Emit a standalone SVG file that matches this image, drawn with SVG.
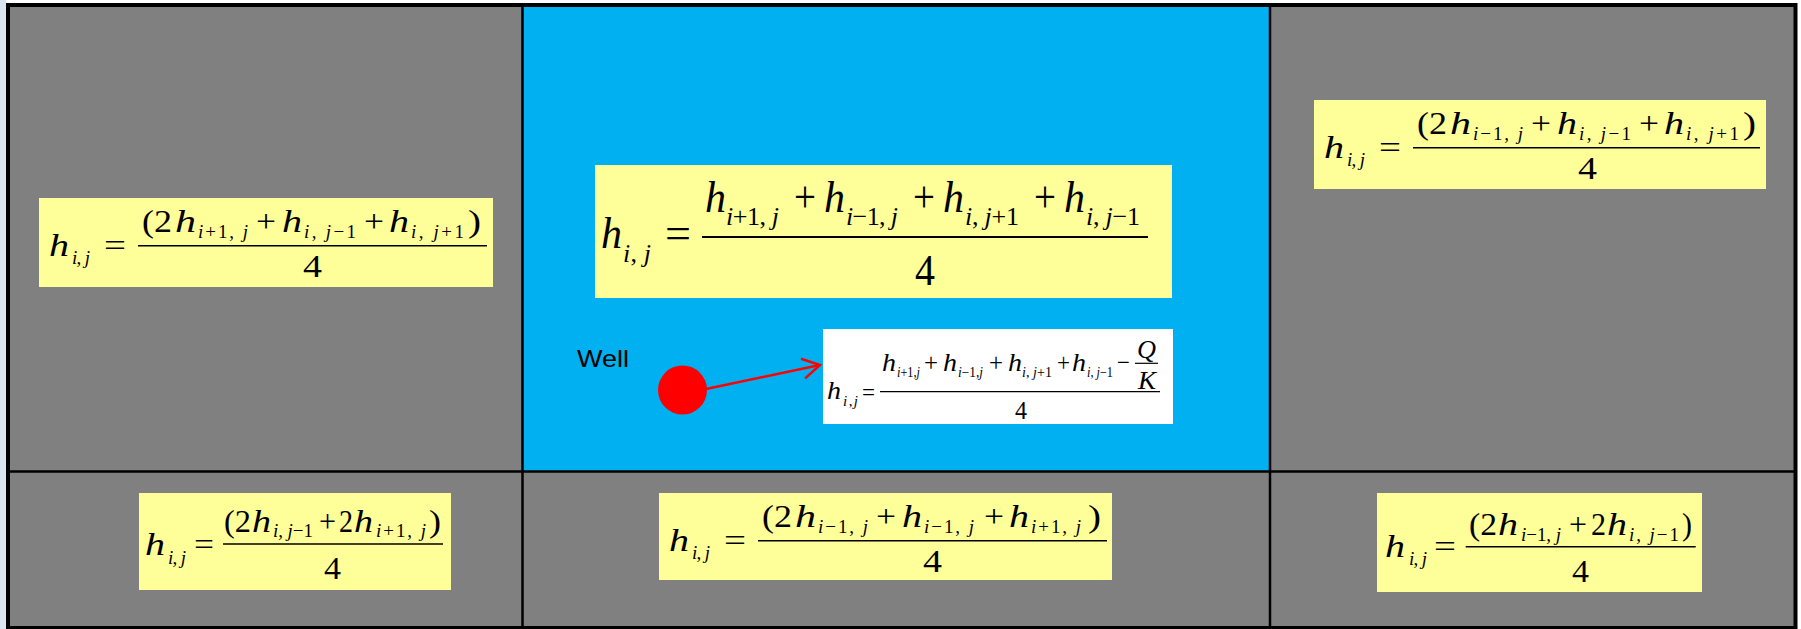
<svg xmlns="http://www.w3.org/2000/svg" width="1801" height="629" viewBox="0 0 1801 629">
<defs>
<style>
text{font-family:"Liberation Serif","Times New Roman",serif;fill:#000}
.it{font-style:italic}
.big{font-size:32px}
.sub{font-size:19px}
.b44{font-size:44px}
.s26{font-size:26px}
.b26{font-size:26px}
.s15{font-size:15px}
.s14{font-size:14px}
.fl{stroke:#000;stroke-width:1.6}
.box{fill:#ffff99}
.grid{stroke:#000;stroke-width:2.5;fill:none}
.lbl{font-family:"Liberation Sans",Arial,sans-serif;font-size:24px}
</style>
<marker id="ah" markerUnits="userSpaceOnUse" viewBox="-20 -12 22 24" refX="0" refY="0" markerWidth="22" markerHeight="24" orient="auto" overflow="visible">
<path d="M-17.3,-10 L0,0 L-17.3,10" fill="none" stroke="#ff0000" stroke-width="2.5"/>
</marker>
</defs>
<rect width="1801" height="629" fill="#ffffff"/>
<rect x="0" y="0" width="6" height="629" fill="#dbe5f1"/>

<g id="grid">
<rect x="8" y="5" width="1787.5" height="623" fill="#808080"/>
<rect x="522" y="5" width="748" height="467" fill="#00b0f0"/>
<line class="grid" x1="522.5" y1="5" x2="522.5" y2="628"/>
<line class="grid" x1="1270" y1="5" x2="1270" y2="628"/>
<line class="grid" x1="8" y1="471.5" x2="1795" y2="471.5"/>
<rect x="8" y="5" width="1787.5" height="623" fill="none" stroke="#000" stroke-width="4"/>
</g>

<g id="formula-left" transform="translate(39,198)">
<rect class="box" width="454" height="89"/>
<text class="big it" x="10" y="58" textLength="20" lengthAdjust="spacingAndGlyphs">h</text>
<text class="sub" x="33" y="66" textLength="18" lengthAdjust="spacing"><tspan class="it">i</tspan>, <tspan class="it">j</tspan></text>
<text class="big" x="65" y="58" textLength="22" lengthAdjust="spacingAndGlyphs">=</text>
<line class="fl" x1="99" y1="47.8" x2="448" y2="47.8"/>
<text class="big" x="103" y="34.3" textLength="30" lengthAdjust="spacingAndGlyphs">(2</text>
<text class="big it" x="136" y="34.3" textLength="21" lengthAdjust="spacingAndGlyphs">h</text>
<text class="sub" x="159" y="40" textLength="50" lengthAdjust="spacing"><tspan class="it">i</tspan>+1, <tspan class="it">j</tspan></text>
<text class="big" x="217" y="34.3" textLength="20" lengthAdjust="spacingAndGlyphs">+</text>
<text class="big it" x="243" y="34.3" textLength="20" lengthAdjust="spacingAndGlyphs">h</text>
<text class="sub" x="265" y="40" textLength="52" lengthAdjust="spacing"><tspan class="it">i</tspan>, <tspan class="it">j</tspan>−1</text>
<text class="big" x="325" y="34.3" textLength="20" lengthAdjust="spacingAndGlyphs">+</text>
<text class="big it" x="350" y="34.3" textLength="20" lengthAdjust="spacingAndGlyphs">h</text>
<text class="sub" x="372" y="40" textLength="53" lengthAdjust="spacing"><tspan class="it">i</tspan>, <tspan class="it">j</tspan>+1</text>
<text class="big" x="429" y="34.3" textLength="13" lengthAdjust="spacingAndGlyphs">)</text>
<text class="big" x="264" y="79" textLength="19" lengthAdjust="spacingAndGlyphs">4</text>
</g>

<g id="formula-right" transform="translate(1314,100)">
<rect class="box" width="452" height="89"/>
<text class="big it" x="10" y="58" textLength="20" lengthAdjust="spacingAndGlyphs">h</text>
<text class="sub" x="33" y="66" textLength="18" lengthAdjust="spacing"><tspan class="it">i</tspan>, <tspan class="it">j</tspan></text>
<text class="big" x="65" y="58" textLength="22" lengthAdjust="spacingAndGlyphs">=</text>
<line class="fl" x1="99" y1="47.8" x2="446" y2="47.8"/>
<text class="big" x="103" y="34.3" textLength="30" lengthAdjust="spacingAndGlyphs">(2</text>
<text class="big it" x="136" y="34.3" textLength="21" lengthAdjust="spacingAndGlyphs">h</text>
<text class="sub" x="159" y="40" textLength="50" lengthAdjust="spacing"><tspan class="it">i</tspan>−1, <tspan class="it">j</tspan></text>
<text class="big" x="217" y="34.3" textLength="20" lengthAdjust="spacingAndGlyphs">+</text>
<text class="big it" x="243" y="34.3" textLength="20" lengthAdjust="spacingAndGlyphs">h</text>
<text class="sub" x="265" y="40" textLength="52" lengthAdjust="spacing"><tspan class="it">i</tspan>, <tspan class="it">j</tspan>−1</text>
<text class="big" x="325" y="34.3" textLength="20" lengthAdjust="spacingAndGlyphs">+</text>
<text class="big it" x="350" y="34.3" textLength="20" lengthAdjust="spacingAndGlyphs">h</text>
<text class="sub" x="372" y="40" textLength="53" lengthAdjust="spacing"><tspan class="it">i</tspan>, <tspan class="it">j</tspan>+1</text>
<text class="big" x="429" y="34.3" textLength="13" lengthAdjust="spacingAndGlyphs">)</text>
<text class="big" x="264" y="79" textLength="19" lengthAdjust="spacingAndGlyphs">4</text>
</g>

<g id="formula-bottom-center" transform="translate(659,493)">
<rect class="box" width="453" height="87"/>
<text class="big it" x="10" y="58" textLength="20" lengthAdjust="spacingAndGlyphs">h</text>
<text class="sub" x="33" y="66" textLength="18" lengthAdjust="spacing"><tspan class="it">i</tspan>, <tspan class="it">j</tspan></text>
<text class="big" x="65" y="58" textLength="22" lengthAdjust="spacingAndGlyphs">=</text>
<line class="fl" x1="99" y1="47.8" x2="448" y2="47.8"/>
<text class="big" x="103" y="34.3" textLength="30" lengthAdjust="spacingAndGlyphs">(2</text>
<text class="big it" x="136" y="34.3" textLength="21" lengthAdjust="spacingAndGlyphs">h</text>
<text class="sub" x="159" y="40" textLength="50" lengthAdjust="spacing"><tspan class="it">i</tspan>−1, <tspan class="it">j</tspan></text>
<text class="big" x="217" y="34.3" textLength="20" lengthAdjust="spacingAndGlyphs">+</text>
<text class="big it" x="243" y="34.3" textLength="20" lengthAdjust="spacingAndGlyphs">h</text>
<text class="sub" x="265" y="40" textLength="50" lengthAdjust="spacing"><tspan class="it">i</tspan>−1, <tspan class="it">j</tspan></text>
<text class="big" x="325" y="34.3" textLength="20" lengthAdjust="spacingAndGlyphs">+</text>
<text class="big it" x="350" y="34.3" textLength="20" lengthAdjust="spacingAndGlyphs">h</text>
<text class="sub" x="372" y="40" textLength="50" lengthAdjust="spacing"><tspan class="it">i</tspan>+1, <tspan class="it">j</tspan></text>
<text class="big" x="429" y="34.3" textLength="13" lengthAdjust="spacingAndGlyphs">)</text>
<text class="big" x="264" y="79" textLength="19" lengthAdjust="spacingAndGlyphs">4</text>
</g>

<g id="formula-bottom-left" transform="translate(139,493)">
<rect class="box" width="312" height="97"/>
<text class="big it" x="6" y="62" textLength="20" lengthAdjust="spacingAndGlyphs">h</text>
<text class="sub" x="29" y="71" textLength="18" lengthAdjust="spacing"><tspan class="it">i</tspan>, <tspan class="it">j</tspan></text>
<text class="big" x="55" y="62" textLength="20" lengthAdjust="spacingAndGlyphs">=</text>
<line class="fl" x1="84" y1="51" x2="304" y2="51"/>
<text class="big" x="85" y="38.7" textLength="27" lengthAdjust="spacingAndGlyphs">(2</text>
<text class="big it" x="113" y="38.7" textLength="19" lengthAdjust="spacingAndGlyphs">h</text>
<text class="sub" x="134" y="44" textLength="40" lengthAdjust="spacing"><tspan class="it">i</tspan>, <tspan class="it">j</tspan>−1</text>
<text class="big" x="180" y="38.7" textLength="17" lengthAdjust="spacingAndGlyphs">+</text>
<text class="big" x="200" y="38.7" textLength="14" lengthAdjust="spacingAndGlyphs">2</text>
<text class="big it" x="215" y="38.7" textLength="19" lengthAdjust="spacingAndGlyphs">h</text>
<text class="sub" x="237" y="44" textLength="50" lengthAdjust="spacing"><tspan class="it">i</tspan>+1, <tspan class="it">j</tspan></text>
<text class="big" x="290" y="38.7" textLength="12" lengthAdjust="spacingAndGlyphs">)</text>
<text class="big" x="185" y="86.3" textLength="17" lengthAdjust="spacingAndGlyphs">4</text>
</g>

<g id="formula-bottom-right" transform="translate(1377,493)">
<rect class="box" width="325" height="99"/>
<text class="big it" x="8" y="63.7" textLength="20" lengthAdjust="spacingAndGlyphs">h</text>
<text class="sub" x="32" y="72" textLength="18" lengthAdjust="spacing"><tspan class="it">i</tspan>, <tspan class="it">j</tspan></text>
<text class="big" x="57" y="63.7" textLength="22" lengthAdjust="spacingAndGlyphs">=</text>
<line class="fl" x1="88.7" y1="53.7" x2="318.7" y2="53.7"/>
<text class="big" x="92" y="42" textLength="28" lengthAdjust="spacingAndGlyphs">(2</text>
<text class="big it" x="121" y="42" textLength="20" lengthAdjust="spacingAndGlyphs">h</text>
<text class="sub" x="144" y="47.5" textLength="40" lengthAdjust="spacing"><tspan class="it">i</tspan>−1, <tspan class="it">j</tspan></text>
<text class="big" x="192" y="42" textLength="18" lengthAdjust="spacingAndGlyphs">+</text>
<text class="big" x="214" y="42" textLength="15" lengthAdjust="spacingAndGlyphs">2</text>
<text class="big it" x="230" y="42" textLength="20" lengthAdjust="spacingAndGlyphs">h</text>
<text class="sub" x="252" y="47.5" textLength="50" lengthAdjust="spacing"><tspan class="it">i</tspan>, <tspan class="it">j</tspan>−1</text>
<text class="big" x="305" y="42" textLength="10" lengthAdjust="spacingAndGlyphs">)</text>
<text class="big" x="195" y="88.7" textLength="17" lengthAdjust="spacingAndGlyphs">4</text>
</g>

<g id="formula-center">
<rect class="box" x="595" y="165" width="577" height="133"/>
<text class="b44 it" x="601" y="248" textLength="21" lengthAdjust="spacingAndGlyphs">h</text>
<text class="s26" x="623" y="262" textLength="28" lengthAdjust="spacing"><tspan class="it">i</tspan>, <tspan class="it">j</tspan></text>
<text class="b44" x="665" y="248" textLength="26" lengthAdjust="spacingAndGlyphs">=</text>
<line x1="702" y1="237" x2="1148" y2="237" stroke="#000" stroke-width="2"/>
<text class="b44 it" x="705" y="212" textLength="21" lengthAdjust="spacingAndGlyphs">h</text>
<text class="s26" x="726" y="225" textLength="53" lengthAdjust="spacing"><tspan class="it">i</tspan>+1, <tspan class="it">j</tspan></text>
<text class="b44" x="794" y="212" textLength="22" lengthAdjust="spacingAndGlyphs">+</text>
<text class="b44 it" x="824" y="212" textLength="21" lengthAdjust="spacingAndGlyphs">h</text>
<text class="s26" x="846" y="225" textLength="52" lengthAdjust="spacing"><tspan class="it">i</tspan>−1, <tspan class="it">j</tspan></text>
<text class="b44" x="913" y="212" textLength="22" lengthAdjust="spacingAndGlyphs">+</text>
<text class="b44 it" x="943" y="212" textLength="21" lengthAdjust="spacingAndGlyphs">h</text>
<text class="s26" x="965" y="225" textLength="54" lengthAdjust="spacing"><tspan class="it">i</tspan>, <tspan class="it">j</tspan>+1</text>
<text class="b44" x="1034" y="212" textLength="22" lengthAdjust="spacingAndGlyphs">+</text>
<text class="b44 it" x="1064" y="212" textLength="21" lengthAdjust="spacingAndGlyphs">h</text>
<text class="s26" x="1086" y="225" textLength="54" lengthAdjust="spacing"><tspan class="it">i</tspan>, <tspan class="it">j</tspan>−1</text>
<text class="b44" x="915" y="285" textLength="20" lengthAdjust="spacingAndGlyphs">4</text>
</g>

<g id="formula-well">
<rect x="823" y="329" width="350" height="95" fill="#ffffff"/>
<text class="b26 it" x="827" y="399.3" textLength="14" lengthAdjust="spacingAndGlyphs">h</text>
<text class="s15" x="843" y="406" textLength="15" lengthAdjust="spacing"><tspan class="it">i</tspan>,<tspan class="it">j</tspan></text>
<text class="b26" x="862" y="401" textLength="13" lengthAdjust="spacingAndGlyphs">=</text>
<line x1="880" y1="391.7" x2="1160" y2="391.7" stroke="#000" stroke-width="1.2"/>
<text class="b26 it" x="882" y="371" textLength="14" lengthAdjust="spacingAndGlyphs">h</text>
<text class="s14" x="897" y="377" textLength="23" lengthAdjust="spacingAndGlyphs"><tspan class="it">i</tspan>+1,<tspan class="it">j</tspan></text>
<text class="b26" x="924" y="371" textLength="14" lengthAdjust="spacingAndGlyphs">+</text>
<text class="b26 it" x="943" y="371" textLength="14" lengthAdjust="spacingAndGlyphs">h</text>
<text class="s14" x="958" y="377" textLength="25" lengthAdjust="spacingAndGlyphs"><tspan class="it">i</tspan>−1,<tspan class="it">j</tspan></text>
<text class="b26" x="989" y="371" textLength="14" lengthAdjust="spacingAndGlyphs">+</text>
<text class="b26 it" x="1008" y="371" textLength="14" lengthAdjust="spacingAndGlyphs">h</text>
<text class="s14" x="1022" y="377" textLength="30" lengthAdjust="spacing"><tspan class="it">i</tspan>, <tspan class="it">j</tspan>+1</text>
<text class="b26" x="1057" y="371" textLength="13" lengthAdjust="spacingAndGlyphs">+</text>
<text class="b26 it" x="1072" y="371" textLength="14" lengthAdjust="spacingAndGlyphs">h</text>
<text class="s14" x="1087" y="377" textLength="26" lengthAdjust="spacingAndGlyphs"><tspan class="it">i</tspan>, <tspan class="it">j</tspan>−1</text>
<text class="b26" x="1117" y="371" textLength="13" lengthAdjust="spacingAndGlyphs">−</text>
<text class="b26 it" x="1137" y="357.7" textLength="19" lengthAdjust="spacingAndGlyphs">Q</text>
<line x1="1135" y1="363.3" x2="1158" y2="363.3" stroke="#000" stroke-width="1.2"/>
<text class="b26 it" x="1138" y="389.3" textLength="18" lengthAdjust="spacingAndGlyphs">K</text>
<text class="b26" x="1015" y="419.3" textLength="12" lengthAdjust="spacingAndGlyphs">4</text>
</g>

<g id="well">
<text class="lbl" x="577" y="367" textLength="52" lengthAdjust="spacingAndGlyphs">Well</text>
<circle cx="682.5" cy="390" r="24.5" fill="#ff0000"/>
</g>

<g id="connectors">
<line x1="706" y1="389" x2="820" y2="365" stroke="#ff0000" stroke-width="2.5" marker-end="url(#ah)"/>
</g>
</svg>
